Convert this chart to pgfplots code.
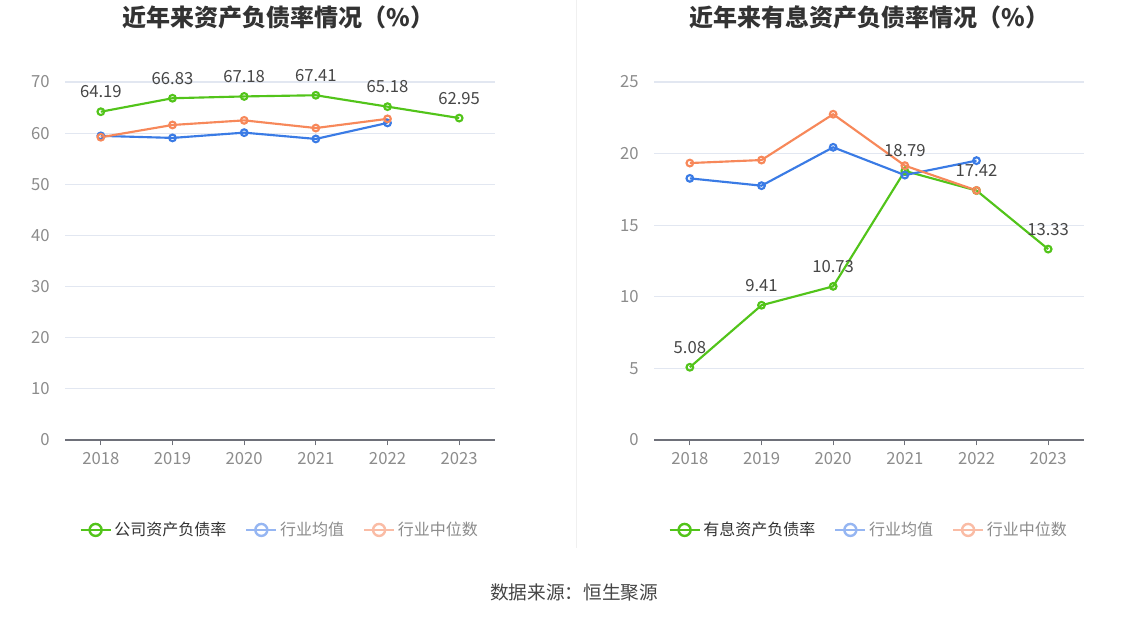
\documentclass[border=0pt]{standalone}
\usepackage{pgfplots}
\pgfplotsset{compat=1.18}
\usepackage{fontspec}
\setmainfont{Noto Sans CJK SC}
\definecolor{cgreen}{RGB}{82,196,26}
\definecolor{cblue}{RGB}{58,123,229}
\definecolor{corange}{RGB}{247,136,90}
\definecolor{lblue}{RGB}{150,182,242}
\definecolor{lorange}{RGB}{250,188,165}
\definecolor{tickgray}{RGB}{140,140,140}
\definecolor{axisgray}{RGB}{110,112,121}
\definecolor{gridc}{RGB}{226,231,241}
\definecolor{darktext}{RGB}{51,51,51}
\definecolor{labeltext}{RGB}{70,70,70}
\pgfplotsset{
  mystyle/.style={
    scale only axis, width=322.5pt, height=268.5pt,
    xmin=-0.5, xmax=5.5, ymin=0,
    xtick={0,1,2,3,4,5}, xticklabels={2018,2019,2020,2021,2022,2023},
    axis x line*=bottom, axis y line*=left,
    x axis line style={-, color=axisgray, line width=0.8pt},
    y axis line style={draw=none},
    xtick style={color=axisgray, line width=0.8pt},
    major tick length=4pt, tick align=outside,
    ytick style={draw=none},
    ymajorgrids, grid style={color=gridc, line width=0.8pt},
    tick label style={font=\fontsize{12.5}{14}\selectfont, color=tickgray},
    /pgf/number format/assume math mode=true,
    xticklabel style={yshift=-2pt},
    yticklabel style={xshift=-4pt},
    legend columns=3,
    legend style={draw=none, fill=none, font=\fontsize{12}{14}\selectfont,
      at={(0.5,-0.2512)}, anchor=center,
      /tikz/every even column/.append style={column sep=12pt}},
    legend image code/.code={
      \draw[mark repeat=2,mark phase=2,#1] plot coordinates {(0pt,0pt)(11.25pt,0pt)(22.5pt,0pt)};
    },
    every axis plot/.append style={line width=1.6pt, mark=o, mark size=2.5pt, mark options={fill=white, solid}},
  },
  lab/.style={
    nodes near coords={\pgfmathprintnumber[fixed,precision=2,fixed zerofill]{\pgfplotspointmeta}},
    point meta=y,
    every node near coord/.append style={anchor=center, yshift=15pt, font=\fontsize{12.5}{14}\selectfont, color=labeltext},
  },
  limg/.style={color=#1, line width=1.8pt, mark=o, mark size=4.5pt, mark options={fill=white, solid}},
}
\begin{document}
\begin{tikzpicture}
\path[use as bounding box, fill=white] (0pt,0pt) rectangle (861pt,464.25pt);
\draw[color=gray!12, line width=0.6pt] (432pt,464.25pt) -- (432pt,53pt);
% left
\begin{axis}[mystyle, at={(48.75pt,134.25pt)}, anchor=south west, ymax=70, ytick={0,10,...,70}]
\addlegendimage{limg=cgreen}
\addlegendentry{\textcolor{darktext}{公司资产负债率}}
\addlegendimage{limg=lblue}
\addlegendentry{\textcolor{tickgray}{行业均值}}
\addlegendimage{limg=lorange}
\addlegendentry{\textcolor{tickgray}{行业中位数}}
\addplot[forget plot, color=cblue] coordinates {(0,59.47)(1,59.07)(2,60.10)(3,58.87)(4,62.00)};
\addplot[forget plot, color=corange] coordinates {(0,59.20)(1,61.60)(2,62.50)(3,61.00)(4,62.80)};
\addplot[forget plot, color=cgreen, lab] coordinates {(0,64.19)(1,66.83)(2,67.18)(3,67.41)(4,65.18)(5,62.95)};
\end{axis}
% right
\begin{axis}[mystyle, at={(490.5pt,134.25pt)}, anchor=south west, ymax=25, ytick={0,5,...,25}]
\addlegendimage{limg=cgreen}
\addlegendentry{\textcolor{darktext}{有息资产负债率}}
\addlegendimage{limg=lblue}
\addlegendentry{\textcolor{tickgray}{行业均值}}
\addlegendimage{limg=lorange}
\addlegendentry{\textcolor{tickgray}{行业中位数}}
\addplot[forget plot, color=cgreen, lab] coordinates {(0,5.08)(1,9.41)(2,10.73)(3,18.79)(4,17.42)(5,13.33)};
\addplot[forget plot, color=cblue] coordinates {(0,18.27)(1,17.76)(2,20.44)(3,18.50)(4,19.51)};
\addplot[forget plot, color=corange] coordinates {(0,19.34)(1,19.55)(2,22.75)(3,19.16)(4,17.43)};
\end{axis}
\node[font=\fontsize{18}{20}\selectfont\bfseries, color=darktext] at (209pt,451.5pt) {近年来资产负债率情况（\%）};
\node[font=\fontsize{18}{20}\selectfont\bfseries, color=darktext] at (652pt,451.5pt) {近年来有息资产负债率情况（\%）};
\node[font=\fontsize{14}{16}\selectfont, color=labeltext] at (430.5pt,20.25pt) {数据来源：恒生聚源};
\end{tikzpicture}
\end{document}
